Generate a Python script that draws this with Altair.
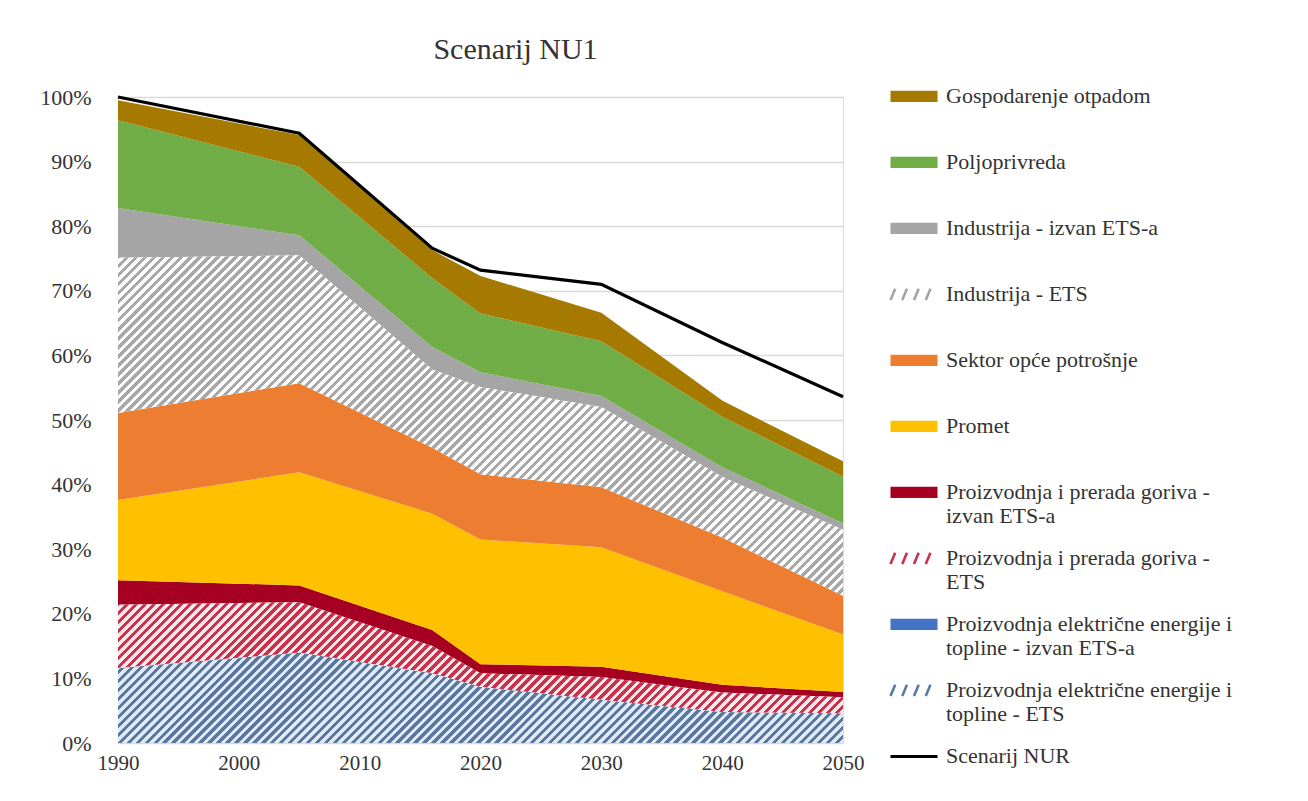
import altair as alt
import pandas as pd

# ---------------- data (shares of 1990 emissions, %) ----------------
years = [1990, 2005, 2016, 2020, 2030, 2040, 2050]

elec_ets = [11.6, 14.0, 10.8, 8.7, 6.7, 4.8, 4.6]
elec_non = [0.0, 0.0, 0.0, 0.0, 0.0, 0.0, 0.0]
fuel_ets = [9.8, 7.8, 4.2, 2.1, 3.5, 3.0, 2.5]
fuel_non = [3.8, 2.6, 2.5, 1.4, 1.6, 1.2, 0.8]
promet = [12.4, 17.5, 18.0, 19.3, 18.5, 14.5, 8.9]
opca = [13.5, 13.8, 10.2, 10.1, 9.3, 8.3, 6.0]
ind_ets = [24.0, 19.8, 12.1, 13.5, 12.4, 9.4, 10.2]
ind_non = [7.7, 3.1, 3.5, 2.3, 1.7, 1.5, 1.0]
poljo = [13.6, 10.6, 10.7, 9.1, 8.5, 7.8, 7.2]
otpad = [3.1, 4.9, 4.3, 5.8, 4.4, 2.5, 2.4]

nur = [100.0, 94.4, 76.6, 73.2, 71.0, 62.0, 53.6]

# bottom -> top
series_names = [
    "Proizvodnja električne energije i topline - ETS",
    "Proizvodnja električne energije i topline - izvan ETS-a",
    "Proizvodnja i prerada goriva - ETS",
    "Proizvodnja i prerada goriva - izvan ETS-a",
    "Promet",
    "Sektor opće potrošnje",
    "Industrija - ETS",
    "Industrija - izvan ETS-a",
    "Poljoprivreda",
    "Gospodarenje otpadom",
]
series_values = [elec_ets, elec_non, fuel_ets, fuel_non, promet, opca,
                 ind_ets, ind_non, poljo, otpad]
# scale colours (for hatched series: the stripe colour, used by the legend)
series_colors = ["#5b7aa3", "#4472c4", "#c8324c", "#a50021", "#ffc000",
                 "#ed7d31", "#a3a3a3", "#a5a5a5", "#70ad47", "#a67a00"]
line_name = "Scenarij NUR"

# hatched series: (line colour, background colour)
hatched = {
    "Proizvodnja električne energije i topline - ETS": ("#5a78a0", "#dfeaf6"),
    "Proizvodnja i prerada goriva - ETS": ("#c8324c", "#fbe6ea"),
    "Industrija - ETS": ("#a8a8a8", "#ffffff"),
}

rows = []
for order, (name, vals) in enumerate(zip(series_names, series_values)):
    for yr, v in zip(years, vals):
        rows.append({"year": yr, "series": name, "value": v, "order": order})
df = pd.DataFrame(rows)
df_line = pd.DataFrame({"year": years, "value": nur, "series": line_name})

# ---------------- layout ----------------
PW, PH = 725, 646
FONT = "Liberation Serif"
TXT = "#333333"

legend_domain = list(reversed(series_names)) + [line_name]
legend_range = list(reversed(series_colors)) + ["#000000"]


def hatch_fill(line, bg, name, period=9.0, frac=0.5):
    """Diagonal stripes as a hard-stop linear gradient over the area's bbox."""
    idx = series_names.index(name)
    bottoms, tops = [], []
    for j in range(len(years)):
        b = sum(series_values[i][j] for i in range(idx))
        bottoms.append(b)
        tops.append(b + series_values[idx][j])
    hpx = (max(tops) - min(bottoms)) / 100.0 * PH
    r = hpx / PW
    k = (1 + r) / (1 + r * r)
    n = int(round((PW + hpx) / period))
    stops = []
    for i in range(n):
        a = round(i / n, 6)
        b = round((i + frac) / n, 6)
        c = round((i + 1) / n, 6)
        stops += [{"offset": a, "color": line}, {"offset": b, "color": line},
                  {"offset": b, "color": bg}, {"offset": c, "color": bg}]
    return {"gradient": "linear", "x1": 0, "y1": 0, "x2": k, "y2": k * r,
            "stops": stops}


# ---------------- legend customisation ----------------
wrap = {
    "Proizvodnja i prerada goriva - izvan ETS-a": ["Proizvodnja i prerada goriva -", "izvan ETS-a"],
    "Proizvodnja i prerada goriva - ETS": ["Proizvodnja i prerada goriva -", "ETS"],
    "Proizvodnja električne energije i topline - izvan ETS-a": ["Proizvodnja električne energije i", "topline - izvan ETS-a"],
    "Proizvodnja električne energije i topline - ETS": ["Proizvodnja električne energije i", "topline - ETS"],
}
label_expr = ""
for k_, v_ in wrap.items():
    label_expr += f"datum.label == '{k_}' ? ['{v_[0]}', '{v_[1]}'] : "
label_expr += "[datum.label, '']"

# symbol paths shifted up so they sit at the middle of the first text line
rect_path = "M-1,-0.52H1V-0.04H-1Z"
hatch_path = ("M-1,-0.04L-0.8,-0.52M-0.5,-0.04L-0.3,-0.52"
              "M0,-0.04L0.2,-0.52M0.5,-0.04L0.7,-0.52")
line_path = "M-1,-0.28H1"
hl = "[" + ", ".join(f"'{h}'" for h in hatched) + "]"

shape_expr = (f"datum.value == '{line_name}' ? '{line_path}' : "
              f"indexof({hl}, datum.value) >= 0 ? '{hatch_path}' : '{rect_path}'")
sw_expr = (f"datum.value == '{line_name}' ? 3 : "
           f"indexof({hl}, datum.value) >= 0 ? 2.6 : 0.01")
stroke_expr = "scale('color', datum.value)"

legend = alt.Legend(
    title=None, orient="none", legendX=785, legendY=-5,
    symbolSize=2209, symbolType=alt.ExprRef(expr=shape_expr),
    symbolStrokeWidth=alt.ExprRef(expr=sw_expr),
    symbolStrokeColor=alt.ExprRef(expr=stroke_expr),
    symbolOpacity=1, symbolOffset=0,
    labelFont=FONT, labelFontSize=22, labelColor=TXT, labelLimit=600,
    labelOffset=21, labelBaseline="alphabetic", rowPadding=20, padding=0,
    labelExpr=label_expr,
)

color = alt.Color("series:N",
                  scale=alt.Scale(domain=legend_domain, range=legend_range),
                  legend=legend)

x = alt.X("year:Q", scale=alt.Scale(domain=[1990, 2050], nice=False, zero=False),
          axis=alt.Axis(values=[1990, 2000, 2010, 2020, 2030, 2040, 2050], format="d",
                        title=None, grid=False, ticks=False, domain=False,
                        labelFlush=False, labelPadding=9, labelFont=FONT,
                        labelFontSize=21, labelColor=TXT))
y_axis = alt.Axis(values=list(range(0, 101, 10)), labelExpr="datum.value + '%'",
                  title=None, grid=True, gridColor="#d9d9d9", gridWidth=1.3,
                  ticks=False, domain=False, labelPadding=27, labelFont=FONT,
                  labelFontSize=22, labelColor=TXT)
yscale = alt.Scale(domain=[0, 100], nice=False)

base = alt.Chart(df).transform_stack(
    stack="value", groupby=["year"], as_=["y0", "y1"],
    sort=[alt.SortField("order", "ascending")],
)

solid = base.transform_filter(
    {"not": {"field": "series", "oneOf": list(hatched)}}
).mark_area(interpolate="linear").encode(
    x=x,
    y=alt.Y("y1:Q", scale=yscale, axis=y_axis),
    y2="y0:Q",
    color=color,
)

layers = [solid]
for name, (lc, bg) in hatched.items():
    layers.append(
        base.transform_filter(alt.datum.series == name)
        .mark_area(interpolate="linear", fill=hatch_fill(lc, bg, name))
        .encode(x=x, y=alt.Y("y1:Q", scale=yscale), y2="y0:Q")
    )

line = alt.Chart(df_line).mark_line(strokeWidth=3.2).encode(
    x=x, y=alt.Y("value:Q", scale=yscale), color=color
)
layers.append(line)

chart = alt.layer(*layers).properties(
    width=PW, height=PH,
    title=alt.TitleParams("Scenarij NU1", font=FONT, fontSize=30, fontWeight="normal",
                          color=TXT, anchor="middle", dx=35, offset=21),
    autosize=alt.AutoSizeParams(type="none"),
    padding={"left": 110, "top": 89, "right": 457, "bottom": 50},
).configure_view(stroke=None).configure(background="white")

chart.save("out.html", embed_options={"renderer": "svg", "actions": False})
